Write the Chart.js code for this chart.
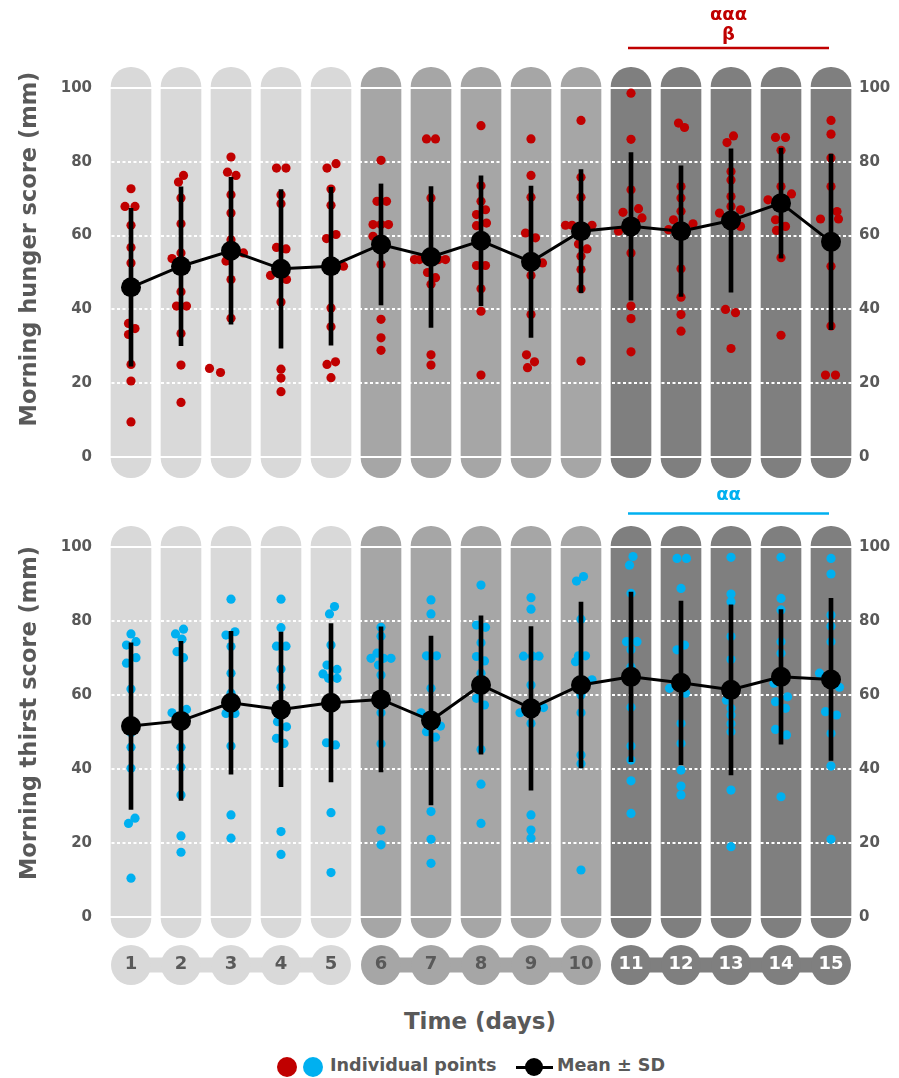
<!DOCTYPE html>
<html>
<head>
<meta charset="utf-8">
<script src="https://cdn.jsdelivr.net/npm/chart.js@4.4.1/dist/chart.umd.min.js"></script>
<style>
html,body{margin:0;padding:0;background:#fff;}
#wrap{position:relative;width:899px;height:1078px;overflow:hidden;background:#fff;font-family:'DejaVu Sans',sans-serif;color:#595959;}
canvas{position:absolute;left:0;}
.ytitle{position:absolute;font-weight:bold;font-size:22.5px;white-space:nowrap;transform:translate(-50%,-50%) rotate(-90deg);}
.xtitle{position:absolute;left:480px;top:1021px;transform:translate(-50%,-50%);font-weight:bold;font-size:23px;white-space:nowrap;}
.ltext{position:absolute;top:1065px;transform:translateY(-50%);font-weight:bold;font-size:17.6px;white-space:nowrap;}
.ldot{position:absolute;border-radius:50%;}
.lline{position:absolute;height:3px;background:#000;}
</style>
</head>
<body>
<div id="wrap">
  <canvas id="top" width="899" height="480" style="top:0px;width:899px;height:480px;"></canvas>
  <canvas id="bottom" width="899" height="520" style="top:480px;width:899px;height:520px;"></canvas>
  <div class="ytitle" style="left:28px;top:249px;">Morning hunger score (mm)</div>
  <div class="ytitle" style="left:28px;top:713px;">Morning thirst score (mm)</div>
  <div class="xtitle">Time (days)</div>
  <div class="ldot" style="left:277px;top:1057px;width:20px;height:20px;background:#c00000;"></div>
  <div class="ldot" style="left:303px;top:1057px;width:20px;height:20px;background:#00b0f0;"></div>
  <div class="ltext" style="left:330px;">Individual points</div>
  <div class="lline" style="left:516px;top:1066px;width:37px;"></div>
  <div class="ldot" style="left:525px;top:1058px;width:18px;height:18px;background:#000;"></div>
  <div class="ltext" style="left:557px;">Mean ± SD</div>
</div>
<script>
// ---------- data ----------
const days = [1,2,3,4,5,6,7,8,9,10,11,12,13,14,15];
const dayGroup = [0,0,0,0,0,1,1,1,1,1,2,2,2,2,2];
const groupColors = ['#d9d9d9','#a6a6a6','#7f7f7f'];
const yTicks = [0,20,40,60,80,100];

const hungerMean = [46.0,51.7,55.9,51.0,51.7,57.6,54.2,58.6,52.9,61.2,62.5,61.2,64.1,68.8,58.3];
const hungerSD   = [21.4,21.5,19.9,21.5,21.4,16.4,19.1,17.6,20.5,16.7,20.0,17.7,19.4,14.9,23.8];
const thirstMean = [51.6,53.0,57.9,56.1,57.9,58.8,53.1,62.7,56.4,62.7,64.9,63.3,61.4,64.9,64.2];
const thirstSD   = [22.5,21.5,19.3,20.9,21.4,19.6,22.8,18.7,22.1,22.4,22.9,22.1,23.0,18.2,21.9];

const hungerPoints = [
  [72.7,67.9,67.9,62.8,56.8,52.6,36.2,34.8,33.2,25.1,20.6,9.5],
  [76.3,74.5,70.2,63.2,55.3,53.8,44.8,40.9,40.9,33.5,24.9,14.8],
  [81.3,77.2,76.3,71.1,66.1,58.9,55.3,53.1,48.1,37.6,24.0,22.9],
  [78.3,78.3,71.1,68.6,56.8,56.4,49.2,48.1,42.0,23.8,21.4,17.7],
  [79.5,78.3,72.6,68.2,60.3,59.2,51.7,40.4,35.3,25.8,25.1,21.5],
  [80.4,69.3,69.3,63.0,63.0,63.0,59.8,52.2,37.3,32.3,28.9],
  [86.2,86.2,70.2,53.5,53.5,53.5,53.5,50.0,48.6,46.8,27.7,24.9],
  [89.8,73.5,69.3,67.0,65.7,63.4,62.7,51.9,51.9,45.6,39.5,22.2],
  [86.2,76.3,70.4,60.7,59.4,52.6,49.2,38.6,27.7,25.8,24.2],
  [91.2,75.8,70.4,62.8,62.8,62.8,57.7,56.4,54.4,50.8,45.6,26.0],
  [98.6,86.1,72.4,67.3,66.3,64.8,61.2,55.3,40.9,37.5,28.5],
  [90.5,89.3,73.3,70.2,66.6,64.3,63.2,61.6,51.0,43.3,38.6,34.1],
  [87.0,85.2,77.4,75.1,70.6,67.9,67.0,66.1,62.5,40.0,39.1,29.4],
  [86.6,86.6,83.1,73.3,71.3,69.7,64.3,62.5,61.4,54.0,33.0],
  [91.2,87.5,81.0,73.3,66.5,64.5,64.5,51.7,35.5,22.2,22.2]
];
const hungerJitter = [
  [0,-0.12,0.08,0,0,0,-0.05,0.08,-0.05,0,0,0],
  [0.05,-0.05,0,0,0,-0.18,0,-0.09,0.11,0,0,0],
  [0,-0.07,0.1,0,0,0,0.25,-0.1,0,0,-0.43,-0.21],
  [-0.09,0.1,0,0,-0.09,0.1,-0.21,0.11,0,0,0,0],
  [0.1,-0.08,0,0,0.1,-0.09,0.25,0,0,0.09,-0.08,0],
  [0,-0.08,0.11,-0.16,0,0.15,-0.16,0,0,0,0],
  [-0.09,0.09,0,-0.33,-0.23,0.15,0.29,-0.07,0.09,0,0,0],
  [0,0,0,0.09,-0.09,0.11,-0.09,-0.09,0.09,0,0,0],
  [0,0,0,-0.11,0.09,0.23,0,0,-0.09,0.07,-0.07],
  [0,0,0,-0.31,-0.18,0.22,-0.05,0.12,0,0,0,0],
  [0,0,0,0.15,-0.16,0.22,-0.25,0,0,0,0],
  [-0.05,0.07,0,0,0,-0.15,0.24,-0.25,0,0,0,0],
  [0.05,-0.08,0,0,0,0,0.19,-0.23,0.19,-0.11,0.09,0],
  [-0.11,0.09,0,0,0.21,-0.26,-0.11,0.09,-0.09,0,0],
  [0,0,0,0,0.12,-0.21,0.15,0,0,-0.11,0.09]
];
const thirstPoints = [
  [76.5,74.4,73.5,70.1,68.6,61.6,49.8,45.9,40.2,26.7,25.3,10.5],
  [77.8,76.5,75.1,71.7,70.1,56.1,55.2,45.9,40.5,33.0,21.9,17.5],
  [85.9,77.1,76.2,73.1,65.9,60.5,55.0,55.0,46.2,27.6,21.3],
  [85.9,78.2,73.2,73.2,67.0,62.1,57.3,52.8,51.4,48.3,46.9,23.1,16.9],
  [83.9,81.9,73.5,68.1,66.9,65.7,64.5,64.5,47.1,46.5,28.2,12.0],
  [78.3,75.9,71.3,69.9,69.9,69.9,68.1,65.4,55.2,46.8,23.5,19.5],
  [85.7,81.9,70.6,70.6,61.8,55.2,51.6,50.1,48.6,28.5,21.0,14.5],
  [89.7,78.9,78.3,74.1,70.4,69.2,65.9,59.1,57.3,45.3,35.9,25.3],
  [86.3,83.2,70.5,70.5,70.5,62.7,56.6,55.2,52.3,27.6,23.5,21.3],
  [92.0,90.8,80.5,70.6,70.6,69.0,64.1,60.0,55.2,43.8,41.4,12.7],
  [97.4,95.1,87.5,74.4,74.4,72.2,67.6,56.7,46.2,42.4,36.8,28.0],
  [96.9,96.9,88.8,73.5,72.2,61.8,60.5,52.3,46.9,39.7,35.4,33.0],
  [97.2,87.3,85.2,75.8,69.6,58.6,56.4,54.6,52.2,50.1,34.3,19.0],
  [97.2,86.1,83.0,74.4,71.3,63.2,59.5,58.2,56.4,50.7,49.2,32.5],
  [96.9,92.7,81.6,78.6,74.4,65.9,62.1,55.5,54.6,49.6,40.8,21.0]
];
const thirstJitter = [
  [0,0.1,-0.09,0.1,-0.09,0,0,0,0,0.08,-0.05,0],
  [0.05,-0.11,0.02,-0.08,0.05,0.11,-0.18,0,0,0,0,0],
  [0,0.08,-0.1,0,0,0,-0.1,0.08,0,0,0],
  [0,0,-0.09,0.1,0,0,0,-0.07,0.11,-0.09,0.06,0,0],
  [0.07,-0.03,0,-0.08,0.12,-0.16,0.12,-0.05,-0.09,0.09,0,0],
  [0,0,-0.08,-0.2,0.05,0.2,-0.05,0,0,0,0,0],
  [0,0,-0.09,0.11,0,-0.2,0.19,-0.09,0.09,0,0,0],
  [0,-0.09,0.09,0,-0.09,0.07,0,-0.09,0.07,0,0,0],
  [0,0,-0.15,0.03,0.16,0,0.25,-0.22,0,0,0,0],
  [0.05,-0.09,0,-0.05,0.09,-0.11,0.22,0,0,0,0,0],
  [0.04,-0.03,0,-0.09,0.12,0,0,0,0,0,0,0],
  [-0.08,0.11,0,0.07,-0.08,-0.23,0.09,0,0,0,0,0],
  [0,0,0,0,0,-0.09,0,0,0,0,0,0],
  [0,0,0,0,0,-0.14,0.13,-0.11,0.09,-0.11,0.11,0],
  [0,0,0,0,0,-0.23,0.17,-0.11,0.11,0,0,0]
];

// ---------- helpers ----------
const FONT = 'DejaVu Sans';
const TEXT = '#595959';

const gridPlugin = {
  id: 'pillGrid',
  afterDatasetDraw(chart, args) {
    if (args.index !== 0) return;
    const ctx = chart.ctx, ys = chart.scales.y, ca = chart.chartArea;
    ctx.save();
    ctx.strokeStyle = '#ffffff';
    ctx.lineWidth = 2;
    yTicks.forEach(v => {
      const y = Math.round(ys.getPixelForValue(v));
      ctx.setLineDash(v === 0 || v === 100 ? [] : [3, 2.5]);
      ctx.beginPath();
      ctx.moveTo(ca.left, y);
      ctx.lineTo(ca.right, y);
      ctx.stroke();
    });
    ctx.restore();
  }
};

const bubblePlugin = {
  id: 'dayBubbles',
  beforeDraw(chart) {
    const xs = chart.scales.x;
    if (!xs.options.display) return;
    const ctx = chart.ctx;
    const cy = xs.top + 48;
    ctx.save();
    [0,1,2].forEach(g => {
      const gd = days.filter((d, i) => dayGroup[i] === g);
      const x1 = xs.getPixelForValue(gd[0]);
      const x2 = xs.getPixelForValue(gd[gd.length - 1]);
      ctx.fillStyle = groupColors[g];
      ctx.fillRect(x1, cy - 7.5, x2 - x1, 15);
      gd.forEach(d => {
        ctx.beginPath();
        ctx.arc(xs.getPixelForValue(d), cy, 20, 0, Math.PI * 2);
        ctx.fill();
      });
    });
    ctx.restore();
  }
};

const annotPlugin = {
  id: 'sigAnnot',
  afterDraw(chart, args, opts) {
    if (!opts || !opts.lines) return;
    const ctx = chart.ctx, xs = chart.scales.x;
    const x1 = xs.getPixelForValue(opts.from) - 3;
    const x2 = xs.getPixelForValue(opts.to) - 2;
    const cx = (x1 + x2) / 2;
    ctx.save();
    ctx.fillStyle = opts.color;
    ctx.font = 'bold 18px "' + FONT + '"';
    ctx.textAlign = 'center';
    ctx.textBaseline = 'alphabetic';
    opts.lines.forEach((t, k) => ctx.fillText(t, cx, opts.baselines[k]));
    ctx.strokeStyle = opts.color;
    ctx.lineWidth = 2.5;
    ctx.beginPath();
    ctx.moveTo(x1, opts.lineY);
    ctx.lineTo(x2, opts.lineY);
    ctx.stroke();
    ctx.restore();
  }
};

function makeChart(el, means, sds, pts, jit, color, showX, padTop, padBottom, annot) {
  const pillData = days.map(d => ({x: d, y: [-5.6, 105.6]}));
  const scatterData = [];
  days.forEach((d, i) => pts[i].forEach((v, j) => scatterData.push({x: d + jit[i][j], y: v})));
  const errData = days.map((d, i) => ({x: d, y: [means[i] - sds[i], means[i] + sds[i]]}));
  const meanData = days.map((d, i) => ({x: d, y: means[i]}));
  const tickFont = {family: FONT, size: 15, weight: 'bold'};
  return new Chart(el, {
    type: 'bar',
    data: {
      datasets: [
        {type: 'bar', data: pillData, backgroundColor: days.map((d, i) => groupColors[dayGroup[i]]),
         barThickness: 40, borderRadius: 20, borderSkipped: false, grouped: false, clip: false, order: 10},
        {type: 'scatter', data: scatterData, backgroundColor: color, borderWidth: 0,
         pointRadius: 4.6, pointHoverRadius: 4.6, pointBorderWidth: 0, clip: false, order: 5},
        {type: 'bar', data: errData, backgroundColor: '#000000', barThickness: 4,
         borderSkipped: false, grouped: false, order: 3},
        {type: 'line', data: meanData, borderColor: '#000000', borderWidth: 3, tension: 0,
         pointRadius: 10, pointHoverRadius: 10, pointBackgroundColor: '#000000', pointBorderWidth: 0, clip: false, order: 1}
      ]
    },
    options: {
      responsive: false,
      animation: false,
      events: [],
      layout: {padding: {top: padTop, bottom: padBottom, left: 0, right: 0}},
      plugins: {legend: {display: false}, tooltip: {enabled: false}, sigAnnot: annot},
      scales: {
        x: {
          type: 'linear', min: 0.5, max: 15.5, display: showX, offset: false,
          grid: {display: false, drawTicks: false, offset: false}, border: {display: false},
          afterBuildTicks: s => { s.ticks = days.map(v => ({value: v})); },
          afterFit: s => { if (s.options.display) s.height = 83; },
          ticks: {
            padding: 37, autoSkip: false, maxRotation: 0, minRotation: 0,
            font: {family: FONT, size: 18, weight: 'bold'},
            color: c => (c.tick && dayGroup[days.indexOf(c.tick.value)] === 2) ? '#ffffff' : TEXT
          }
        },
        y: {
          type: 'linear', position: 'left', min: 0, max: 100,
          grid: {display: false, drawTicks: false}, border: {display: false},
          afterBuildTicks: s => { s.ticks = yTicks.map(v => ({value: v})); },
          afterFit: s => { s.width = 106; },
          ticks: {padding: 14, font: tickFont, color: TEXT}
        },
        y2: {
          type: 'linear', position: 'right', min: 0, max: 100,
          grid: {display: false, drawTicks: false}, border: {display: false},
          afterBuildTicks: s => { s.ticks = yTicks.map(v => ({value: v})); },
          afterFit: s => { s.width = 43; },
          ticks: {padding: 3, font: tickFont, color: TEXT}
        }
      }
    },
    plugins: [gridPlugin, bubblePlugin, annotPlugin]
  });
}

makeChart(document.getElementById('top'), hungerMean, hungerSD, hungerPoints, hungerJitter,
  '#c00000', false, 88, 22,
  {lines: ['ααα', 'β'], baselines: [20, 40], lineY: 48, from: 11, to: 15, color: '#c00000'});

makeChart(document.getElementById('bottom'), thirstMean, thirstSD, thirstPoints, thirstJitter,
  '#00b0f0', true, 67, 0,
  {lines: ['αα'], baselines: [20], lineY: 33.5, from: 11, to: 15, color: '#00b0f0'});
</script>
</body>
</html>
